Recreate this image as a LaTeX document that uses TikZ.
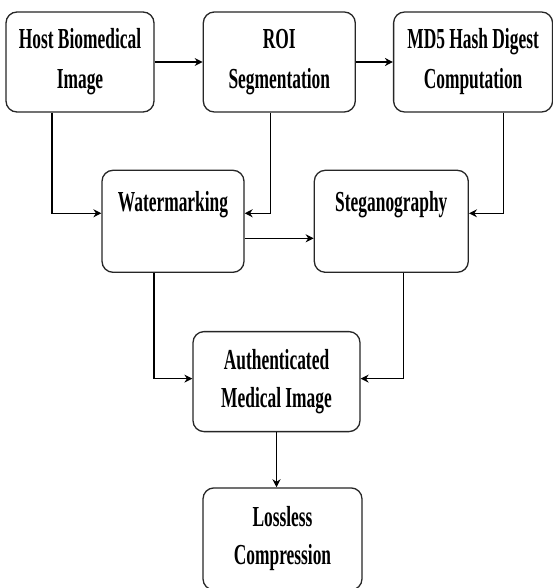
\documentclass[tikz,border=0pt]{standalone}
\usepackage{fontspec}
\setmainfont{Liberation Serif}[FakeStretch=0.6]
\usepackage{tikz}
\usetikzlibrary{arrows.meta, positioning}

\begin{document}
\begin{tikzpicture}[
    block/.style={rectangle, rounded corners=11pt, draw=black!85, line width=1.3pt, fill=white, minimum height=100pt, align=center, font=\fontsize{29pt}{40pt}\selectfont\bfseries},
    arrow/.style={-{Stealth[length=8pt,width=8pt]}, line width=1.2pt}
]
\useasboundingbox (0,0) rectangle (552pt,-588pt);

\node[block, minimum width=148pt] (host) at (80pt,-62pt) {Host Biomedical\\Image};
\node[block, minimum width=152pt, right=48pt of host] (roi) {ROI\\Segmentation};
\node[block, minimum width=159pt, right=37pt of roi] (md5) {MD5 Hash Digest\\Computation};
\node[block, minimum width=142pt, minimum height=102pt, below=57pt of host, xshift=93pt] (water) {Watermarking\\~};
\node[block, minimum width=154pt, minimum height=102pt, right=69pt of water] (stego) {Steganography\\~};
\node[block, minimum width=167pt, below=58pt of water, xshift=103.5pt, font=\fontsize{29pt}{38pt}\selectfont\bfseries] (auth) {Authenticated\\Medical Image};
\node[block, minimum width=159pt, minimum height=102pt, below=55pt of auth, xshift=6pt, font=\fontsize{29pt}{38pt}\selectfont\bfseries] (lossless) {Lossless\\Compression};

\draw[arrow] (host) -- (roi);
\draw[arrow] (roi) -- (md5);
\draw[arrow] ([xshift=-28pt]host.south) |- ([yshift=8pt]water.west);
\draw[arrow] ([xshift=-9pt]roi.south) |- ([yshift=8pt]water.east);
\draw[arrow] ([xshift=30.5pt]md5.south) |- ([yshift=8pt]stego.east);
\draw[arrow] ([yshift=-17pt]water.east) -- ([yshift=-17pt]stego.west);
\draw[arrow] ([xshift=-19pt]water.south) |- ([yshift=3pt]auth.west);
\draw[arrow] ([xshift=12pt]stego.south) |- ([yshift=3pt]auth.east);
\draw[arrow] (auth.south) -- (auth.south |- lossless.north);
\end{tikzpicture}
\end{document}
